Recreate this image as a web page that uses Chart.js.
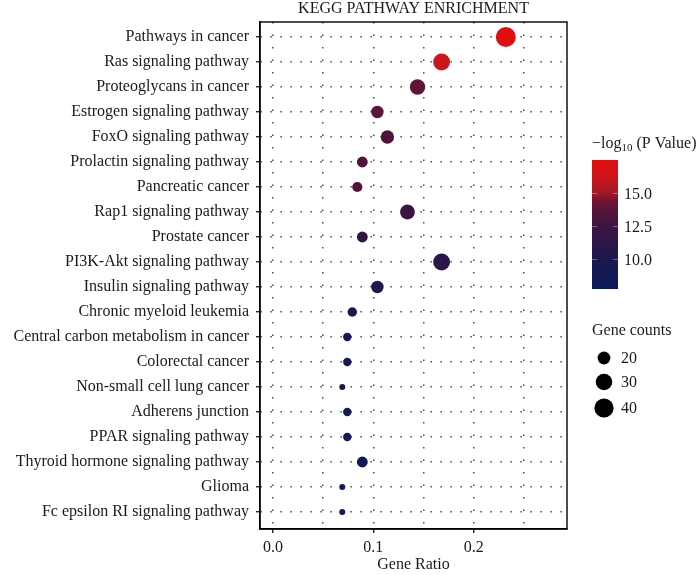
<!DOCTYPE html>
<html><head><meta charset="utf-8">
<script src="https://cdn.jsdelivr.net/npm/chart.js@4.4.0/dist/chart.umd.min.js"></script>
<style>html,body{margin:0;padding:0;background:#fff;}#wrap{width:698px;height:575px;}</style>
</head><body><div id="wrap"><canvas id="c" width="698" height="575"></canvas></div>
<script>
// ---- data ----
const categories = [
  "Pathways in cancer","Ras signaling pathway","Proteoglycans in cancer","Estrogen signaling pathway",
  "FoxO signaling pathway","Prolactin signaling pathway","Pancreatic cancer","Rap1 signaling pathway",
  "Prostate cancer","PI3K-Akt signaling pathway","Insulin signaling pathway","Chronic myeloid leukemia",
  "Central carbon metabolism in cancer","Colorectal cancer","Non-small cell lung cancer","Adherens junction",
  "PPAR signaling pathway","Thyroid hormone signaling pathway","Glioma","Fc epsilon RI signaling pathway"
];
const geneRatio = [0.232,0.168,0.144,0.104,0.114,0.089,0.084,0.134,0.089,0.168,0.104,0.079,0.074,0.074,0.069,0.074,0.074,0.089,0.069,0.069];
const geneCount = [47,34,29,21,23,18,17,27,18,34,21,16,15,15,14,15,15,18,14,14];
const negLog10P = [17.4,16.2,14.0,13.8,13.3,13.3,13.5,12.3,11.6,11.3,10.4,10.0,9.3,9.3,9.1,9.2,9.1,8.6,7.9,7.8];
const xTickLabels = [0.0, 0.1, 0.2];
const colorbarTicks = [10.0, 12.5, 15.0];
const sizeLegendCounts = [20, 30, 40];
const colorRange = [7.77, 17.48];
const countRange = [14, 47];

// ---- styles ----
const FONT = "'Liberation Serif','Times New Roman',serif";
const TEXT = '#1a1a1a';
const FS = 16;
const GRID = 'rgba(45,45,45,0.85)';
const colorStops = [[7.77,'#0b1a5c'],[9.0,'#141a55'],[10.0,'#1c184e'],[11.0,'#28164a'],[12.5,'#3d1542'],
  [13.5,'#52143a'],[14.3,'#6c1433'],[15.0,'#a01826'],[16.0,'#c8171e'],[17.48,'#e20e10']];
function hex2rgb(h){return [parseInt(h.slice(1,3),16),parseInt(h.slice(3,5),16),parseInt(h.slice(5,7),16)];}
function colorFor(v){
  if (v <= colorStops[0][0]) return colorStops[0][1];
  for (let i=1;i<colorStops.length;i++){
    if (v <= colorStops[i][0]){
      const [v0,c0]=colorStops[i-1],[v1,c1]=colorStops[i];
      const t=(v-v0)/(v1-v0), a=hex2rgb(c0), b=hex2rgb(c1);
      return 'rgb('+a.map((x,k)=>Math.round(x+(b[k]-x)*t)).join(',')+')';
    }
  }
  return colorStops[colorStops.length-1][1];
}
function radiusFor(c){ return 3 + 7*Math.sqrt(Math.max(0,(c-countRange[0]))/(countRange[1]-countRange[0])); }

const points = categories.map((_,i)=>({x:geneRatio[i], y:i, r:radiusFor(geneCount[i])}));
const colors = negLog10P.map(colorFor);

const isMajor = v => Math.abs(v*10 - Math.round(v*10)) < 1e-6;

const decor = {
  id:'decor',
  beforeDatasetsDraw(chart){
    const {ctx, chartArea:a} = chart;
    ctx.save();
    ctx.setLineDash([]);
    ctx.strokeStyle='#000'; ctx.lineWidth=1.4;
    ctx.strokeRect(a.left, a.top, a.right-a.left, a.bottom-a.top);
    ctx.restore();
  },
  afterDraw(chart){
    const {ctx, chartArea:a} = chart;
    ctx.save();
    ctx.fillStyle=TEXT;
    // title
    ctx.font = FS+'px '+FONT; ctx.textAlign='center'; ctx.textBaseline='alphabetic';
    ctx.fillText('KEGG PATHWAY ENRICHMENT', (a.left+a.right)/2, 13);
    // colorbar title
    let x = 592, base = 148;
    ctx.textAlign='left';
    ctx.font=FS+'px '+FONT; ctx.fillText('\u2212log', x, base); x += ctx.measureText('\u2212log').width;
    ctx.font='11px '+FONT; ctx.fillText('10', x, base+3); x += ctx.measureText('10').width;
    ctx.font=FS+'px '+FONT; ctx.fillText(' (P Value)', x, base);
    // colorbar
    const bx=592, bw=26, top=160, bot=289;
    const vy = v => bot - (v-colorRange[0])/(colorRange[1]-colorRange[0])*(bot-top);
    const g = ctx.createLinearGradient(0, bot, 0, top);
    colorStops.forEach(([v,c])=>g.addColorStop((v-colorRange[0])/(colorRange[1]-colorRange[0]), c));
    ctx.fillStyle=g; ctx.fillRect(bx, top, bw, bot-top);
    ctx.strokeStyle='rgba(255,255,255,0.35)'; ctx.lineWidth=1;
    ctx.fillStyle=TEXT; ctx.font=FS+'px '+FONT; ctx.textBaseline='middle';
    colorbarTicks.forEach(v=>{
      const y=Math.round(vy(v))+0.5;
      ctx.beginPath(); ctx.moveTo(bx,y); ctx.lineTo(bx+5,y); ctx.moveTo(bx+bw-5,y); ctx.lineTo(bx+bw,y); ctx.stroke();
      ctx.fillText(v.toFixed(1), bx+bw+6, y+1);
    });
    // size legend
    ctx.fillText('Gene counts', 592, 331);
    const ys=[358,382,408];
    sizeLegendCounts.forEach((c,i)=>{
      ctx.fillStyle='#000';
      ctx.beginPath(); ctx.arc(604, ys[i], radiusFor(c)+0.4, 0, Math.PI*2); ctx.fill();
      ctx.fillStyle=TEXT; ctx.fillText(String(c), 621, ys[i]+1);
    });
    ctx.restore();
  }
};

new Chart(document.getElementById('c'), {
  type:'bubble',
  data:{ datasets:[{ data:points, backgroundColor:colors, borderWidth:0, hoverBorderWidth:0 }] },
  options:{
    responsive:false, animation:false, devicePixelRatio:1,
    layout:{ padding:{ top:22, right:131, left:0, bottom:0 } },
    plugins:{ legend:{display:false}, title:{display:false}, tooltip:{enabled:false} },
    scales:{
      x:{
        type:'linear', min:-0.013, max:0.293,
        afterFit(s){ s.height = 46; },
        ticks:{ stepSize:0.05, includeBounds:false, autoSkip:false, maxRotation:0, padding:5,
          color:TEXT, font:{family:FONT, size:FS},
          callback:v=> isMajor(v) ? (Math.round(v*10)/10).toFixed(1) : '' },
        grid:{ color:GRID, lineWidth:1.5, tickLength:4,
          tickColor: c => (c.tick && isMajor(c.tick.value)) ? '#000' : 'rgba(0,0,0,0)', tickBorderDash:[], tickWidth:1.2 },
        border:{ display:true, color:'#000', width:1.4, dash:[1.5,11] },
        title:{ display:true, text:'Gene Ratio', color:TEXT, font:{family:FONT, size:FS}, padding:{top:0,bottom:1} }
      },
      y:{
        type:'linear', reverse:true, min:-0.6, max:19.68,
        afterFit(s){ s.width = 260; },
        ticks:{ stepSize:1, includeBounds:false, autoSkip:false, padding:7, color:TEXT,
          font:{family:FONT, size:FS}, callback:v=> categories[Math.round(v)] || '' },
        grid:{ color:GRID, lineWidth:1.5, tickLength:4,
          tickColor:'#000', tickBorderDash:[], tickWidth:1.2 },
        border:{ display:true, color:'#000', width:1.4, dash:[1.5,8.5] }
      }
    }
  },
  plugins:[decor]
});
</script></body></html>
